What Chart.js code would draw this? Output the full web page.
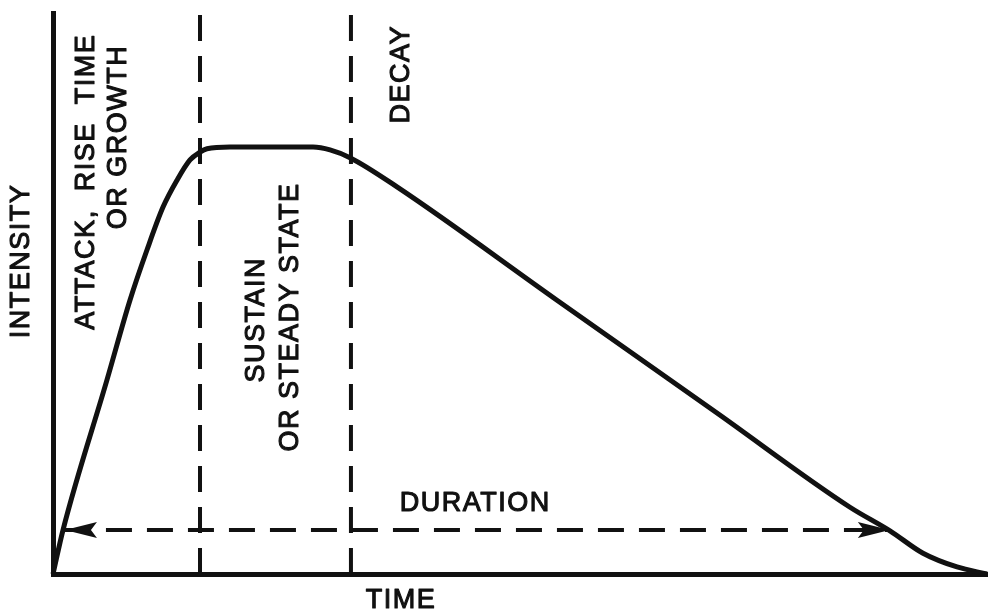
<!DOCTYPE html>
<html>
<head>
<meta charset="utf-8">
<title>Sound envelope</title>
<script src="https://cdn.jsdelivr.net/npm/chart.js@4/dist/chart.umd.min.js"></script>
<style>
  html, body { margin: 0; padding: 0; background: #fff; }
  #envelope { display: block; }
</style>
</head>
<body>
<canvas id="envelope" width="995" height="613"></canvas>
<script>
// ====== Datos (escala 0-100) ======
const envelopeX = [0, 1.07, 5.78, 8.24, 10.06, 11.78, 13.28, 14.67, 15.74, 16.49, 18.95, 27.84,
                   29.66, 31.8, 36.83, 53.96, 71.09, 85.33, 89.61, 93.15, 96.79, 100];
const envelopeY = [0, 7.84, 34.6, 48.8, 57.75, 65.4, 70.2, 73.8, 75.2, 75.8, 76.1, 76.1,
                   75.6, 74.2, 69.0, 48.8, 28.7, 11.9, 7.7, 3.7, 1.25, 0];

// límites de fase: ataque | sostenido | decaimiento
const phaseBounds = [15.74, 31.9];

// flecha de duración (puntas) y su nivel
const durationSpan = [1.28, 89.6];
const durationLevel = 7.84;

const axisTitles = ['INTENSITY', 'TIME'];
const phaseLabels = [
  ['ATTACK,  RISE  TIME', 'OR GROWTH'],
  ['SUSTAIN', 'OR STEADY STATE'],
  ['DECAY']
];
const durationLabel = 'DURATION';

const INK = '#111';
const FONT = 'normal 27px "Liberation Sans", Arial, sans-serif';

// ====== Textos y puntas de flecha ======
const annotations = {
  id: 'annotations',
  afterDatasetsDraw(chart) {
    const { ctx, scales: { x, y } } = chart;

    // puntas de flecha de la duración
    const yLine = y.getPixelForValue(durationLevel);
    const heads = [
      { tip: x.getPixelForValue(durationSpan[0]), dir: -1 },
      { tip: x.getPixelForValue(durationSpan[1]), dir: 1 }
    ];
    ctx.save();
    ctx.fillStyle = INK;
    heads.forEach(h => {
      ctx.beginPath();
      ctx.moveTo(h.tip, yLine);
      ctx.lineTo(h.tip - h.dir * 32, yLine - 8);
      ctx.lineTo(h.tip - h.dir * 26, yLine);
      ctx.lineTo(h.tip - h.dir * 32, yLine + 8);
      ctx.closePath();
      ctx.fill();
    });
    ctx.restore();

    // textos (relleno + trazo fino para imitar la impresión)
    const texts = [
      { t: axisTitles[0], x: -3.43, y: 55.8, rot: true },
      { t: axisTitles[1], x: 37.26, y: -4.6 },
      { t: phaseLabels[0][0], x: 3.53, y: 69.9, rot: true },
      { t: phaseLabels[0][1], x: 6.96, y: 77.9, rot: true },
      { t: phaseLabels[1][0], x: 21.7, y: 45.3, rot: true },
      { t: phaseLabels[1][1], x: 25.3, y: 45.8, rot: true },
      { t: phaseLabels[2][0], x: 37.26, y: 89.1, rot: true },
      { t: durationLabel, x: 45.2, y: 12.66 }
    ];
    ctx.save();
    ctx.fillStyle = INK;
    ctx.strokeStyle = INK;
    ctx.lineWidth = 1.1;
    ctx.lineJoin = 'round';
    ctx.font = FONT;
    ctx.letterSpacing = '1.5px';
    ctx.textAlign = 'center';
    ctx.textBaseline = 'middle';
    texts.forEach(d => {
      const px = x.getPixelForValue(d.x);
      const py = y.getPixelForValue(d.y);
      ctx.save();
      ctx.translate(px, py);
      if (d.rot) ctx.rotate(-Math.PI / 2);
      ctx.fillText(d.t, 0, 1);
      ctx.strokeText(d.t, 0, 1);
      ctx.restore();
    });
    ctx.restore();
  }
};

const dashed = (points) => ({
  data: points,
  borderColor: INK,
  borderWidth: 4,
  borderDash: [26, 15],
  pointRadius: 0,
  tension: 0,
  clip: false
});

new Chart(document.getElementById('envelope'), {
  type: 'line',
  data: {
    datasets: [
      dashed([{ x: phaseBounds[0], y: 0 }, { x: phaseBounds[0], y: 100 }]),
      dashed([{ x: phaseBounds[1], y: 0 }, { x: phaseBounds[1], y: 100 }]),
      dashed([{ x: durationSpan[0], y: durationLevel }, { x: durationSpan[1], y: durationLevel }]),
      {
        data: envelopeX.map((v, i) => ({ x: v, y: envelopeY[i] })),
        borderColor: INK,
        borderWidth: 5,
        pointRadius: 0,
        cubicInterpolationMode: 'monotone',
        borderJoinStyle: 'round',
        clip: false
      }
    ]
  },
  options: {
    responsive: false,
    animation: false,
    events: [],
    layout: { padding: { left: 53, right: 8, top: 13, bottom: 39 } },
    plugins: { legend: { display: false }, tooltip: { enabled: false } },
    scales: {
      x: {
        type: 'linear', min: 0, max: 100,
        ticks: { display: false },
        grid: { display: false, drawTicks: false },
        border: { display: true, color: INK, width: 5 }
      },
      y: {
        type: 'linear', min: 0, max: 100,
        ticks: { display: false },
        grid: { display: false, drawTicks: false },
        border: { display: true, color: INK, width: 5 }
      }
    }
  },
  plugins: [annotations]
});
</script>
</body>
</html>
